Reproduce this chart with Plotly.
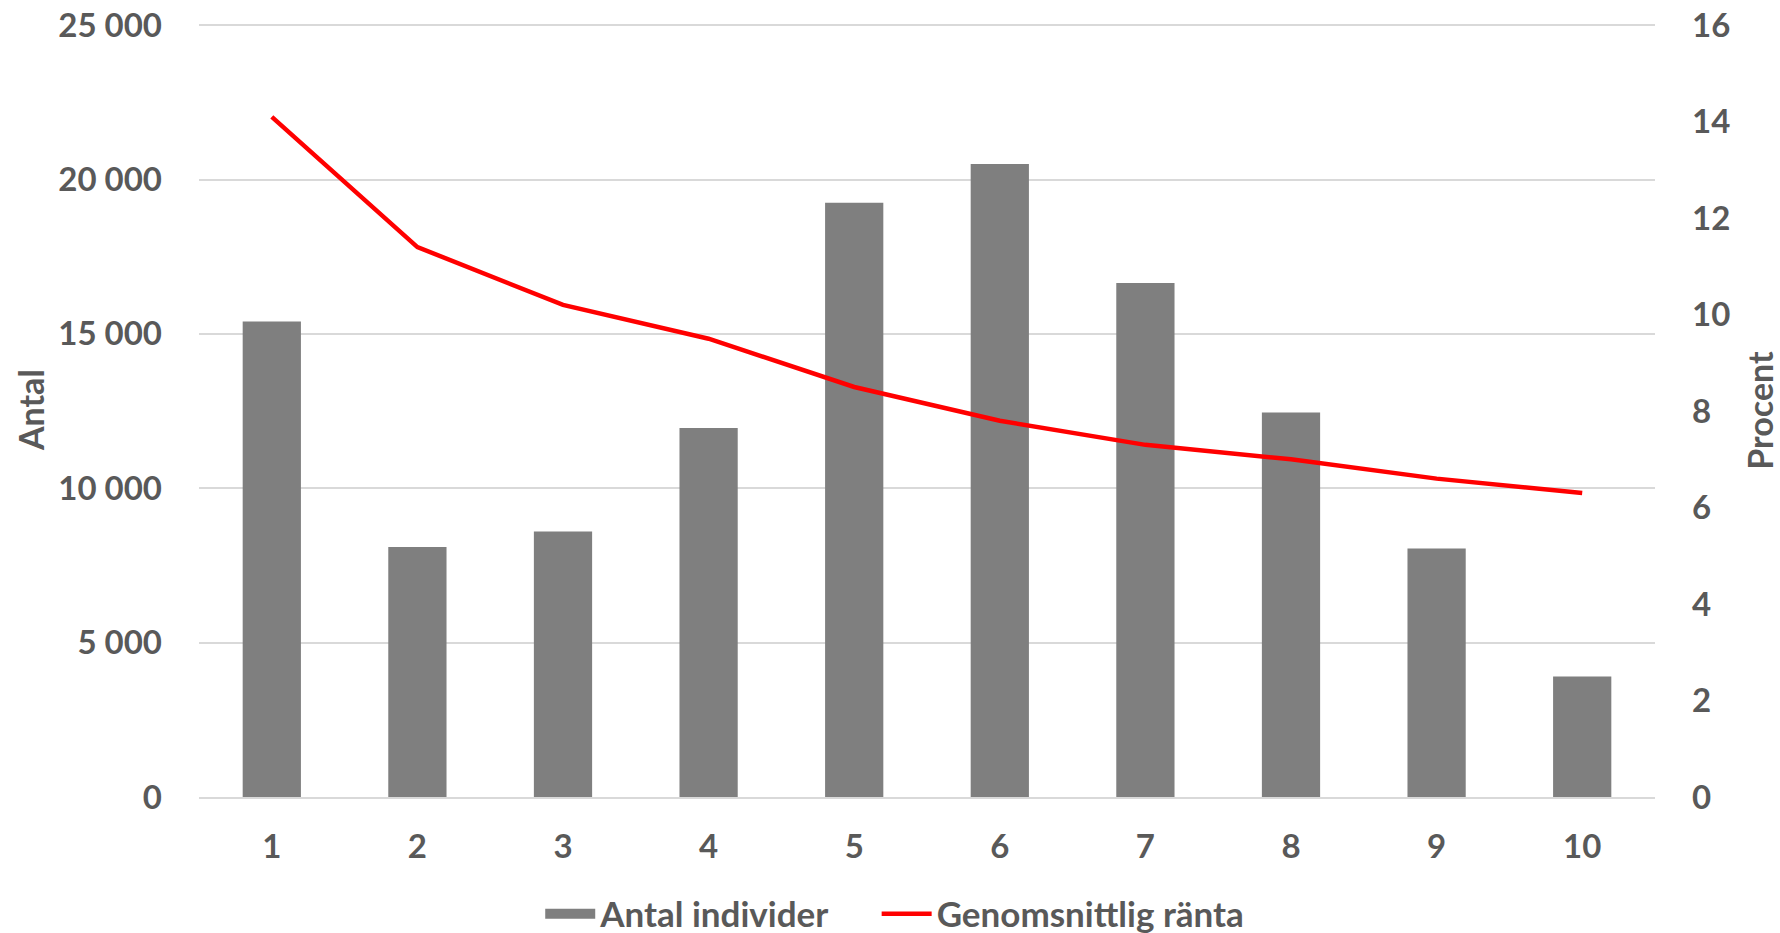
import plotly.graph_objects as go

categories = ["1", "2", "3", "4", "5", "6", "7", "8", "9", "10"]
antal_individer = [15400, 8100, 8600, 11950, 19250, 20500, 16650, 12450, 8050, 3900]
genomsnittlig_ranta = [14.1, 11.4, 10.2, 9.5, 8.5, 7.8, 7.3, 7.0, 6.6, 6.3]
left_ticks = [0, 5000, 10000, 15000, 20000, 25000]
left_ticktext = ["0", "5 000", "10 000", "15 000", "20 000", "25 000"]
right_ticks = [0, 2, 4, 6, 8, 10, 12, 14, 16]

TXT = "#595959"
BAR = "#7f7f7f"
TOP_PAD = 1.0015  # keeps the top grid line inside the plot


def f(size=33):
    return dict(family="Lato", size=size, color=TXT, weight="bold")


fig = go.Figure()
fig.add_trace(go.Bar(
    x=categories, y=antal_individer, name="Antal individer",
    marker=dict(color=BAR, line=dict(width=0)), yaxis="y",
    showlegend=False,
))
fig.add_trace(go.Scatter(
    x=[None], y=[None], name="Antal individer", mode="lines",
    line=dict(color=BAR, width=22), yaxis="y", hoverinfo="skip",
    legend="legend",
))
fig.add_trace(go.Scatter(
    x=categories, y=genomsnittlig_ranta, name="Genomsnittlig ränta",
    mode="lines", line=dict(color="#ff0000", width=4.5), yaxis="y2",
    legend="legend2",
))

legend_common = dict(
    orientation="h", xref="container", yref="container",
    xanchor="left", y=0.0204, yanchor="middle",
    font=f(35), itemwidth=50, tracegroupgap=0,
)

fig.update_layout(
    width=1780, height=933,
    margin=dict(l=199, r=125, t=24, b=136, autoexpand=False),
    paper_bgcolor="white", plot_bgcolor="white",
    font=f(),
    bargap=0.6,
    showlegend=True,
    legend=dict(x=0.3035, **legend_common),
    legend2=dict(x=0.4925, **legend_common),
    xaxis=dict(
        type="category", showgrid=False, zeroline=False,
        showline=True, linecolor="#d9d9d9", linewidth=1.5,
        ticks="", ticklabelstandoff=20, tickfont=f(),
    ),
    yaxis=dict(
        range=[0, 25000 * TOP_PAD], tickvals=left_ticks, ticktext=left_ticktext,
        showgrid=True, gridcolor="#d9d9d9", gridwidth=1.5,
        zeroline=False, showline=False, ticks="",
        ticklabelstandoff=36, tickfont=f(), ticklabeloverflow="allow",
    ),
    yaxis2=dict(
        range=[0, 16 * TOP_PAD], tickvals=right_ticks, overlaying="y", side="right",
        showgrid=False, zeroline=False, showline=False, ticks="",
        ticklabelstandoff=36, tickfont=f(), ticklabeloverflow="allow",
        title=dict(text="Procent", standoff=20, font=f(34)),
    ),
    annotations=[dict(
        text="Antal", textangle=-90, showarrow=False,
        xref="paper", yref="paper", x=-0.1157, y=0.5,
        xanchor="center", yanchor="middle", font=f(34),
    )],
)

fig.write_html(
    "out.html",
    config={"displayModeBar": False},
    post_script="document.body.style.margin='0';",
)
